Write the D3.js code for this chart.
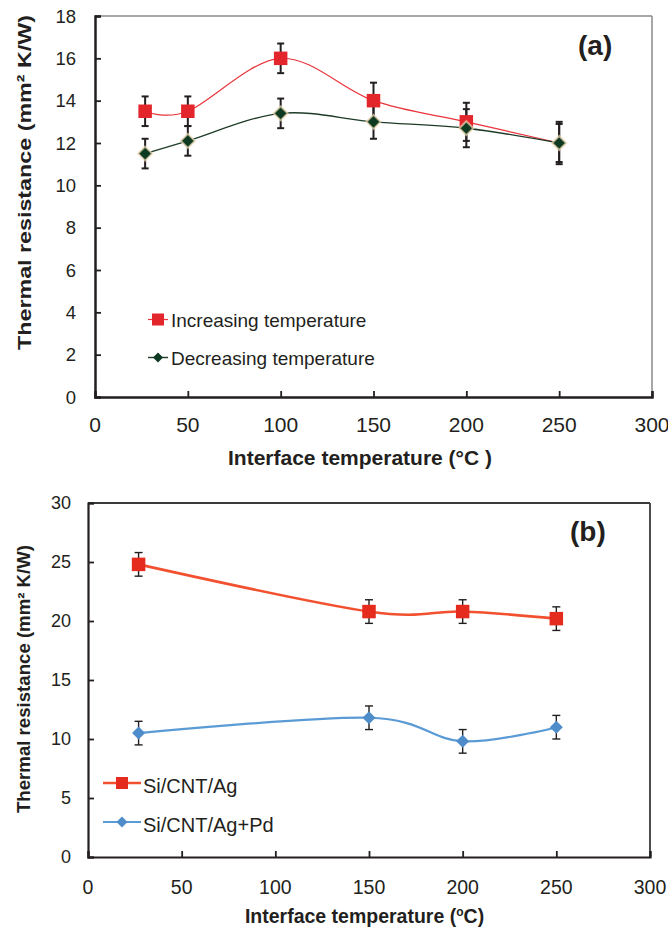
<!DOCTYPE html>
<html>
<head>
<meta charset="utf-8">
<script src="https://cdn.jsdelivr.net/npm/d3@7"></script>
<style>
  body { margin: 0; background: #fff; }
  text { font-family: "Liberation Sans", Arial, sans-serif; fill: #231f20; }
</style>
</head>
<body>
<svg id="chart" width="668" height="928"></svg>
<script>
// panel (a)
const tempA = [27, 50, 100, 150, 200, 250];
const incA = [13.5, 13.5, 16.0, 14.0, 13.0, 12.0];
const incErrA = [0.7, 0.7, 0.7, 0.85, 0.9, 0.9];
const decA = [11.5, 12.1, 13.4, 13.0, 12.7, 12.0];
const decErrA = [0.7, 0.7, 0.7, 0.8, 0.9, 1.0];
const xTicksA = [0, 50, 100, 150, 200, 250, 300];
const yTicksA = [0, 2, 4, 6, 8, 10, 12, 14, 16, 18];

// panel (b)
const tempB = [27, 150, 200, 250];
const agB = [24.8, 20.8, 20.8, 20.2];
const agErrB = [1.0, 1.0, 1.0, 1.0];
const pdB = [10.5, 11.8, 9.8, 11.0];
const pdErrB = [1.0, 1.0, 1.0, 1.0];
const xTicksB = [0, 50, 100, 150, 200, 250, 300];
const yTicksB = [0, 5, 10, 15, 20, 25, 30];

const svg = d3.select("#chart");

function drawPanel(o) {
    const g = svg.append("g");
    const x = d3.scaleLinear().domain([0, 300]).range([o.left, o.right]);
    const y = d3.scaleLinear().domain(o.yDomain).range([o.bottom, o.top]);

    // frame: top and right
    g.append("line").attr("x1", o.left).attr("x2", o.right).attr("y1", o.top).attr("y2", o.top)
        .attr("stroke", o.frameColor).attr("stroke-width", o.frameWidth);
    g.append("line").attr("x1", o.right).attr("x2", o.right).attr("y1", o.top).attr("y2", o.bottom)
        .attr("stroke", o.frameColor).attr("stroke-width", o.frameWidth);

    // axes with inward ticks
    const xAxis = g.append("g").attr("transform", `translate(0,${o.bottom})`)
        .call(d3.axisBottom(x).tickValues(o.xTicks).tickSize(-6).tickFormat(""));
    const yAxis = g.append("g").attr("transform", `translate(${o.left},0)`)
        .call(d3.axisLeft(y).tickValues(o.yTicks).tickSize(-6).tickFormat(""));
    [xAxis, yAxis].forEach(a => {
        a.select(".domain").attr("stroke", "#231f20").attr("stroke-width", o.axisWidth);
        a.selectAll(".tick line").attr("stroke", "#231f20").attr("stroke-width", 1.8);
    });

    g.selectAll(".xlab").data(o.xTicks).enter().append("text")
        .attr("x", d => x(d)).attr("y", o.xLabY)
        .attr("text-anchor", "middle").attr("font-size", o.xTickSize).text(d => d);
    g.selectAll(".ylab").data(o.yTicks).enter().append("text")
        .attr("x", o.yLabX).attr("y", d => y(d)).attr("dy", "0.36em")
        .attr("text-anchor", "end").attr("font-size", o.yTickSize).text(d => d);

    o.series.forEach(s => {
        const pts = o.temps.map((t, i) => ({ t, v: s.values[i], e: s.errs[i] }));
        const line = d3.line().x(d => x(d.t)).y(d => y(d.v)).curve(d3.curveCardinal.tension(0));
        g.append("path").datum(pts).attr("d", line).attr("fill", "none")
            .attr("stroke", s.lineColor).attr("stroke-width", s.lineWidth);

        const eb = g.selectAll(null).data(pts).enter().append("g").attr("stroke", "#231f20").attr("stroke-width", o.errWidth);
        eb.append("line").attr("x1", d => x(d.t)).attr("x2", d => x(d.t))
            .attr("y1", d => y(d.v - d.e)).attr("y2", d => y(d.v + d.e));
        eb.append("line").attr("x1", d => x(d.t) - o.cap).attr("x2", d => x(d.t) + o.cap)
            .attr("y1", d => y(d.v + d.e)).attr("y2", d => y(d.v + d.e));
        eb.append("line").attr("x1", d => x(d.t) - o.cap).attr("x2", d => x(d.t) + o.cap)
            .attr("y1", d => y(d.v - d.e)).attr("y2", d => y(d.v - d.e));
    });

    o.series.forEach(s => {
        // a marker fully hidden under the other series is left out
        const pts = o.temps.map((t, i) => ({ t, v: s.values[i], i }))
            .filter(d => !(s.hidden || []).includes(d.i));
        g.selectAll(null).data(pts).enter().append("path")
            .attr("transform", d => `translate(${x(d.t)},${y(d.v)})`)
            .attr("d", marker(s.shape, s.size))
            .attr("fill", s.fill)
            .attr("stroke", s.halo || "none").attr("stroke-width", s.halo ? 2 : 0)
            .attr("stroke-opacity", 0.7);
    });

    // legend
    o.series.forEach((s, i) => {
        const ly = o.legend.y + i * o.legend.dy;
        g.append("line").attr("x1", o.legend.x1).attr("x2", o.legend.x2).attr("y1", ly).attr("y2", ly)
            .attr("stroke", s.lineColor).attr("stroke-width", s.lineWidth);
        g.append("path").attr("transform", `translate(${(o.legend.x1 + o.legend.x2) / 2},${ly})`)
            .attr("d", marker(s.shape, s.legendSize)).attr("fill", s.fill);
        g.append("text").attr("x", o.legend.tx).attr("y", ly + o.legend.ty)
            .attr("font-size", o.legend.size).text(s.name);
    });

    g.append("text").attr("x", o.tag.x).attr("y", o.tag.y).attr("font-size", o.tag.size)
        .attr("font-weight", "bold").text(o.tag.text);

    return { x, y };
}

function marker(shape, size) {
    const h = size / 2;
    if (shape === "square") return `M${-h},${-h}H${h}V${h}H${-h}Z`;
    return `M0,${-h}L${h},0L0,${h}L${-h},0Z`;
}

drawPanel({
    left: 95, right: 652, top: 16, bottom: 397, yDomain: [0, 18],
    xTicks: xTicksA, yTicks: yTicksA, temps: tempA,
    frameColor: "#8a8a8a", frameWidth: 1.5, axisWidth: 2.5, errWidth: 2, cap: 3.5,
    xLabY: 432, xTickSize: 21, yLabX: 76, yTickSize: 18.5,
    series: [
        { name: "Increasing temperature", values: incA, errs: incErrA, lineColor: "#e8343a", lineWidth: 1.2,
          shape: "square", size: 13.5, legendSize: 12, fill: "#e3262b", hidden: [5] },
        { name: "Decreasing temperature", values: decA, errs: decErrA, lineColor: "#1e3b28", lineWidth: 1.4,
          shape: "diamond", size: 14, legendSize: 10, fill: "#0f3a22", halo: "#f1dcb6" }
    ],
    legend: { x1: 148, x2: 168, y: 319.5, dy: 38, tx: 171, ty: 7.5, size: 19 },
    tag: { x: 578, y: 55, size: 28, text: "(a)" }
});

drawPanel({
    left: 88, right: 650, top: 503, bottom: 857, yDomain: [0, 30],
    xTicks: xTicksB, yTicks: yTicksB, temps: tempB,
    frameColor: "#3a3a3a", frameWidth: 1.8, axisWidth: 2.2, errWidth: 1.4, cap: 4,
    xLabY: 894, xTickSize: 19.5, yLabX: 71, yTickSize: 18,
    series: [
        { name: "Si/CNT/Ag", values: agB, errs: agErrB, lineColor: "#f2502f", lineWidth: 2.6,
          shape: "square", size: 13.5, legendSize: 12, fill: "#e52a1e" },
        { name: "Si/CNT/Ag+Pd", values: pdB, errs: pdErrB, lineColor: "#5b9bd5", lineWidth: 2.2,
          shape: "diamond", size: 13, legendSize: 11, fill: "#4f8cca" }
    ],
    legend: { x1: 103, x2: 141, y: 783, dy: 39, tx: 143, ty: 9.5, size: 20 },
    tag: { x: 570, y: 541, size: 28, text: "(b)" }
});

// axis titles
svg.append("text").attr("transform", "translate(31,182.5) rotate(-90)")
    .attr("text-anchor", "middle").attr("font-size", 18.5).attr("font-weight", "bold")
    .attr("textLength", 335).attr("lengthAdjust", "spacingAndGlyphs")
    .text("Thermal resistance (mm² K/W)");
svg.append("text").attr("x", 360).attr("y", 465)
    .attr("text-anchor", "middle").attr("font-size", 21).attr("font-weight", "bold")
    .text("Interface temperature (°C )");

svg.append("text").attr("transform", "translate(30,679) rotate(-90)")
    .attr("text-anchor", "middle").attr("font-size", 18).attr("font-weight", "bold")
    .attr("textLength", 268).attr("lengthAdjust", "spacingAndGlyphs")
    .text("Thermal resistance (mm² K/W)");
const xtB = svg.append("text").attr("x", 364.5).attr("y", 922.5)
    .attr("text-anchor", "middle").attr("font-size", 19.5).attr("font-weight", "bold");
xtB.append("tspan").text("Interface temperature (");
xtB.append("tspan").attr("font-size", 12).attr("dy", -7).text("o");
xtB.append("tspan").attr("dy", 7).text("C)");
</script>
</body>
</html>
